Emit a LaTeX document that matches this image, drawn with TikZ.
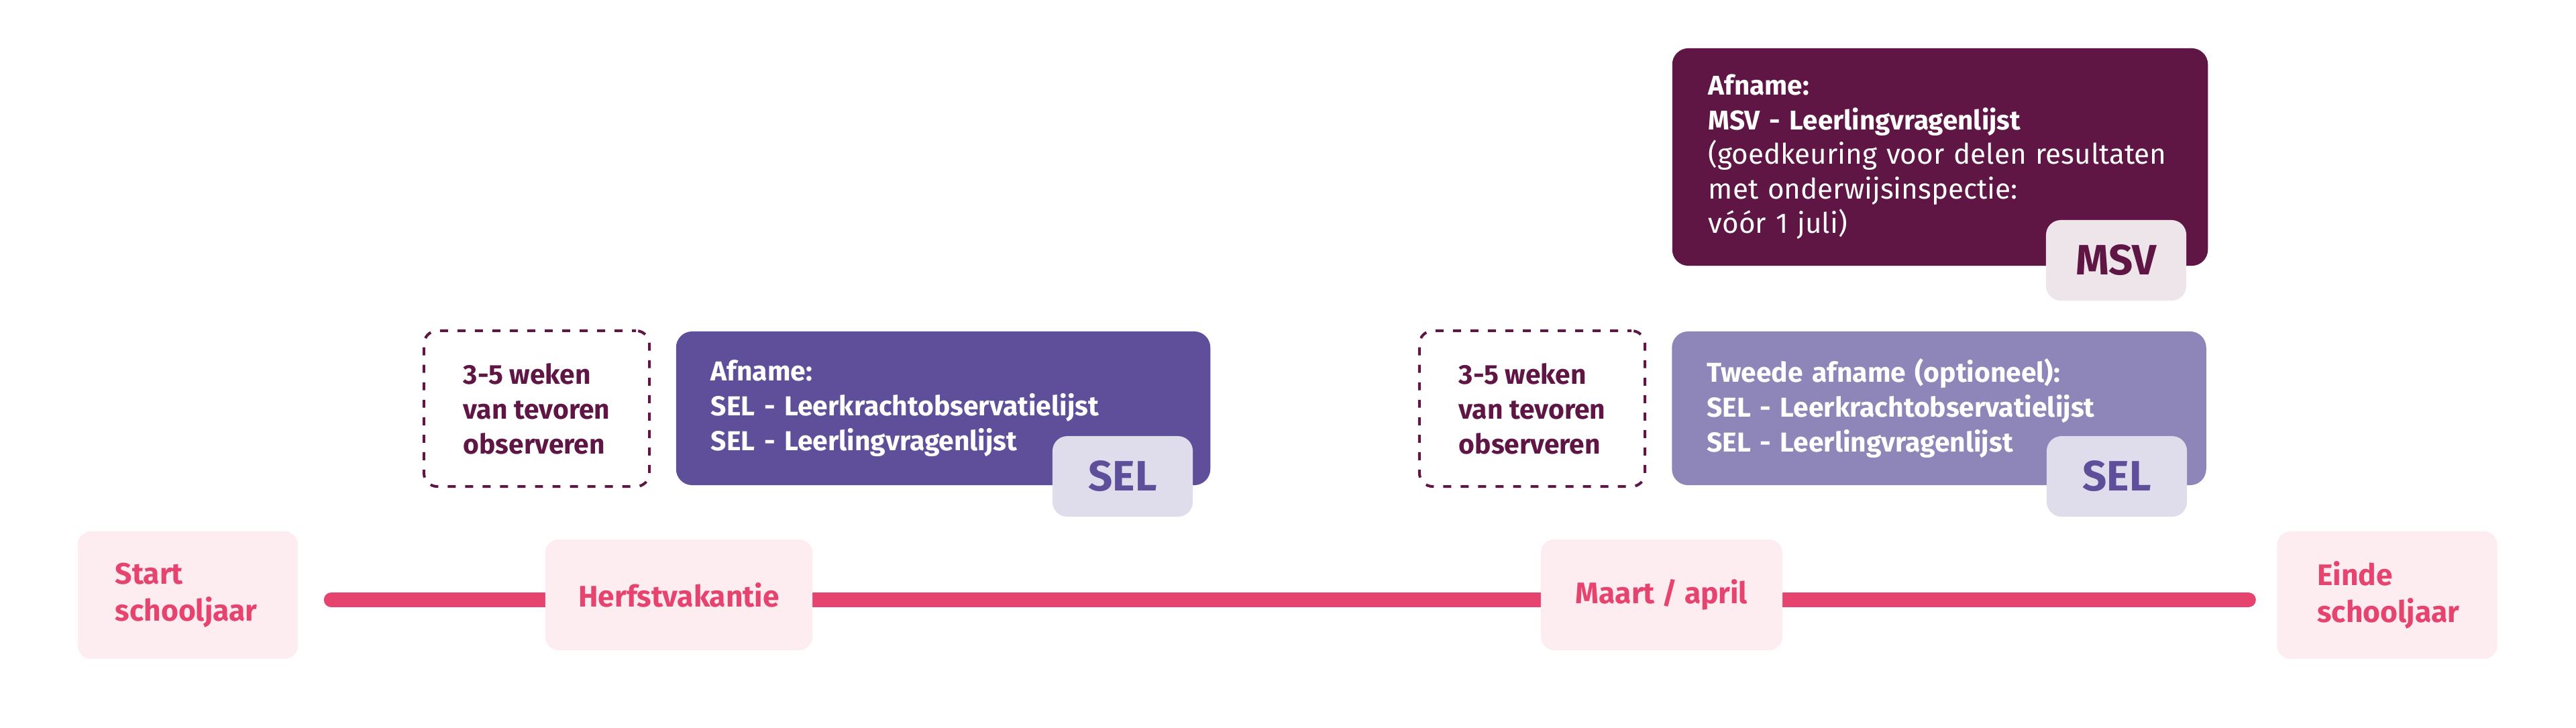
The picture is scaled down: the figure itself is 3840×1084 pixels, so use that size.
\documentclass[tikz,border=0pt]{standalone}
\usepackage{fontspec}
\setmainfont{Fira Sans}
\usetikzlibrary{backgrounds}
\definecolor{pinkfill}{HTML}{FDECF0}
\definecolor{pinktext}{HTML}{E6436E}
\definecolor{plum}{HTML}{5F1645}
\definecolor{selA}{HTML}{5F4F9A}
\definecolor{selB}{HTML}{8E85B9}
\definecolor{badgeSEL}{HTML}{DFDCEB}
\definecolor{badgeMSV}{HTML}{EDE5EA}
\newcommand{\boldline}[1]{{\fontsize{11.5}{14.65}\selectfont\bfseries #1}}
\begin{document}
\begin{tikzpicture}[x=0.01cm,y=-0.01cm,
  pinkfont/.style={font=\fontsize{12.6}{15.5}\selectfont\bfseries},
  bodyfont/.style={font=\fontsize{11.6}{14.8}\selectfont\bfseries},
  pinkbox/.style={fill=pinkfill, rounded corners=0.2cm, text=pinktext, pinkfont, inner ysep=0pt},
  dashbox/.style={draw=plum, line width=1.15pt, dash pattern=on 3.4pt off 4pt, dash phase=1.7pt, rounded corners=0.2cm,
    text=plum, bodyfont, align=left, inner sep=0pt,
    minimum width=3.36cm, minimum height=2.32cm},
  takebox/.style={rounded corners=0.24cm, text=white, bodyfont, align=left, inner ysep=0pt,
    minimum width=7.96cm},
  badge/.style={rounded corners=0.22cm, font=\fontsize{18}{20}\selectfont\bfseries,
    minimum width=2.09cm, minimum height=1.20cm, inner sep=0pt},
  timeline/.style={line width=6.3pt, line cap=round, draw=pinktext}
]
\useasboundingbox (0,0) rectangle (3840,1084);

% timeline stations
\node[pinkbox, align=left, text width=2.16cm, inner xsep=0.56cm, minimum width=3.28cm, minimum height=1.90cm]
  (start) at (280,887) {Start\\schooljaar};
\node[pinkbox, minimum width=3.98cm, minimum height=1.65cm] (herfst) at (1012,886.5) {Herfstvakantie};
\node[pinkbox, minimum width=3.60cm, minimum height=1.65cm] (maart) at (2477,886.5) {Maart / april};
\node[pinkbox, align=left, text width=2.08cm, inner xsep=0.60cm, minimum width=3.28cm, minimum height=1.90cm]
  (einde) at (3558.5,887) {Einde\\schooljaar};

\begin{pgfonlayer}{background}
  \draw[timeline] ([xshift=0.49cm,yshift=-0.07cm]start.east) -- ([xshift=-0.42cm,yshift=-0.07cm]einde.west);
\end{pgfonlayer}

% autumn
\node[dashbox] (obs1) at (800,609) {3-5 weken\\van tevoren\\observeren};
\node[takebox, fill=selA, text width=6.92cm, inner xsep=0.52cm, minimum height=2.29cm] (sel1) at (1406,608.5)
  {Afname:\\SEL - Leerkrachtobservatielijst\\SEL - Leerlingvragenlijst};
\node[badge, fill=badgeSEL, text=selA] (selb1) at (1673.5,710) {SEL};

% spring
\node[dashbox] (obs2) at (2284,609) {3-5 weken\\van tevoren\\observeren};
\node[takebox, fill=selB, text width=6.92cm, inner xsep=0.52cm, minimum height=2.29cm] (sel2) at (2890.5,608.5)
  {Tweede afname (optioneel):\\SEL - Leerkrachtobservatielijst\\SEL - Leerlingvragenlijst};
\node[badge, fill=badgeSEL, text=selA] (selb2) at (3155.5,710) {SEL};

\node[takebox, fill=plum, minimum width=7.98cm, minimum height=3.24cm, text width=6.9cm, inner xsep=0.54cm,
  font=\fontsize{12}{14.65}\selectfont] (msv) at (2892,234)
  {\boldline{Afname:}\\\boldline{MSV - Leerlingvragenlijst}\\\mbox{(goedkeuring voor delen resultaten}\\\mbox{met onderwijsinspectie:}\\\mbox{vóór 1 juli)}};
\node[badge, fill=badgeMSV, text=plum] (msvb) at (3154.5,388) {MSV};
\end{tikzpicture}
\end{document}
